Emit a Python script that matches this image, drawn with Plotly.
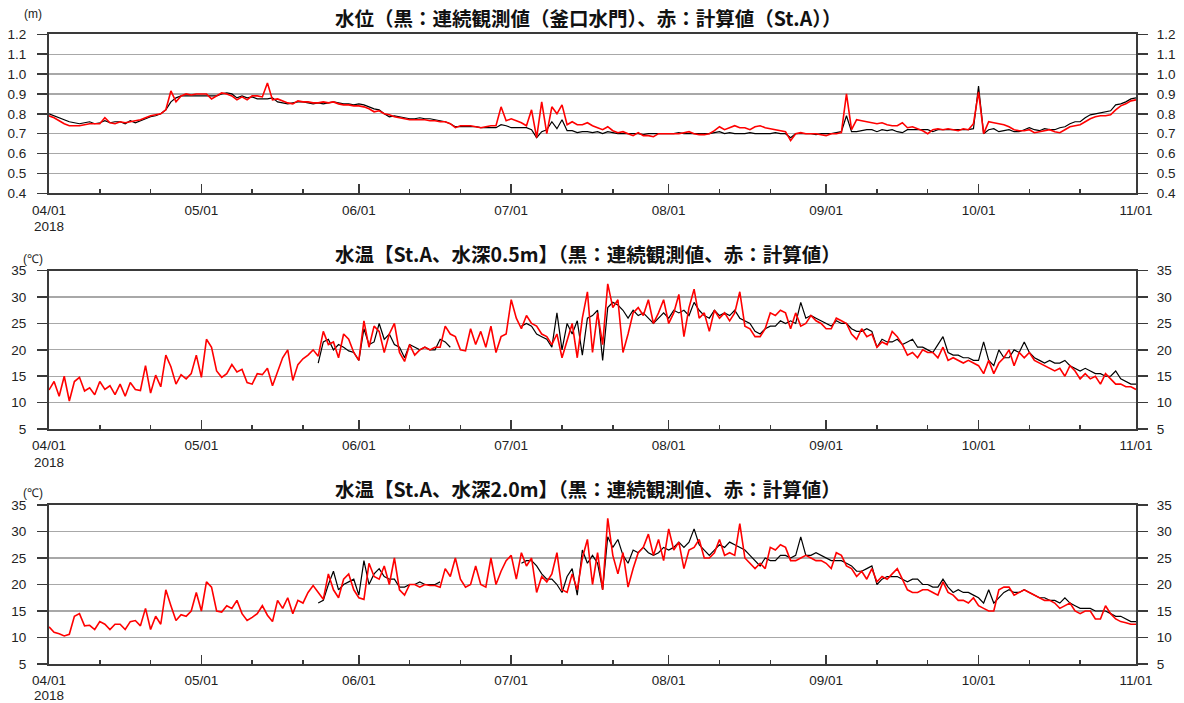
import pandas as pd
import plotly.graph_objects as go

W, H = 1184, 703

# ---------------- data ----------------
month_ticks = ["2018-04-01", "2018-05-01", "2018-06-01", "2018-07-01", "2018-08-01",
               "2018-09-01", "2018-10-01", "2018-11-01"]
month_labels = ["04/01", "05/01", "06/01", "07/01", "08/01", "09/01", "10/01", "11/01"]
year_label = "2018"
minor_ticks = [f"2018-{m:02d}-{d:02d}" for m in range(4, 11) for d in (11, 21)]

# water level (m), daily, 2018-04-01 .. 2018-11-01
lv_calc_apr = [0.79,0.78,0.765,0.75,0.74,0.74,0.74,0.745,0.75,0.75,0.75,0.78,0.755,0.75,0.76,
               0.755,0.76,0.765,0.77,0.78,0.79,0.795,0.80,0.82,0.915,0.86,0.89,0.90,0.895,0.90]
lv_calc_may = [0.90,0.90,0.875,0.89,0.905,0.90,0.89,0.87,0.885,0.87,0.89,0.89,0.885,0.955,0.87,
               0.875,0.865,0.855,0.85,0.865,0.86,0.86,0.855,0.855,0.86,0.855,0.86,0.85,0.845,0.845,0.84]
lv_calc_jun = [0.84,0.835,0.825,0.81,0.815,0.80,0.795,0.785,0.78,0.775,0.77,0.77,0.77,0.77,0.765,
               0.765,0.76,0.76,0.75,0.73,0.74,0.74,0.74,0.735,0.73,0.735,0.74,0.74,0.835,0.765]
lv_calc_jul = [0.775,0.765,0.755,0.74,0.82,0.68,0.86,0.70,0.835,0.80,0.845,0.745,0.76,0.745,0.745,
               0.755,0.74,0.73,0.72,0.735,0.715,0.705,0.71,0.70,0.69,0.705,0.69,0.69,0.685,0.70,0.70]
lv_calc_aug = [0.70,0.70,0.70,0.705,0.71,0.70,0.695,0.695,0.70,0.715,0.735,0.72,0.73,0.74,0.73,
               0.73,0.72,0.735,0.74,0.73,0.725,0.72,0.715,0.71,0.665,0.70,0.705,0.70,0.70,0.70,0.695]
lv_calc_sep = [0.69,0.70,0.70,0.705,0.90,0.72,0.77,0.765,0.76,0.755,0.75,0.755,0.745,0.74,0.74,
               0.755,0.73,0.735,0.725,0.715,0.70,0.72,0.725,0.72,0.725,0.72,0.715,0.725,0.72,0.75]
lv_calc_oct = [0.91,0.70,0.76,0.755,0.75,0.745,0.735,0.72,0.715,0.715,0.72,0.705,0.71,0.715,0.72,
               0.71,0.705,0.72,0.735,0.74,0.745,0.76,0.775,0.785,0.79,0.79,0.795,0.82,0.84,0.85,
               0.865,0.87]

lv_obs_apr = [0.80,0.79,0.78,0.77,0.76,0.755,0.75,0.755,0.76,0.75,0.755,0.765,0.755,0.76,0.76,
              0.75,0.765,0.755,0.765,0.775,0.785,0.79,0.80,0.82,0.86,0.88,0.89,0.89,0.89,0.89]
lv_obs_may = [0.89,0.89,0.89,0.89,0.90,0.905,0.90,0.88,0.89,0.88,0.885,0.875,0.875,0.875,0.88,
              0.86,0.855,0.85,0.855,0.86,0.86,0.855,0.85,0.855,0.85,0.855,0.86,0.855,0.85,0.85,0.845]
lv_obs_jun = [0.85,0.845,0.835,0.825,0.82,0.80,0.785,0.79,0.785,0.78,0.775,0.775,0.78,0.775,0.775,
              0.77,0.765,0.76,0.75,0.735,0.735,0.735,0.735,0.735,0.73,0.73,0.73,0.73,0.745,0.74]
lv_obs_jul = [0.73,0.73,0.73,0.73,0.72,0.68,0.71,0.72,0.76,0.725,0.77,0.715,0.715,0.705,0.71,
              0.71,0.705,0.71,0.70,0.71,0.705,0.70,0.70,0.70,0.70,0.70,0.695,0.70,0.70,0.70,0.70]
lv_obs_aug = [0.70,0.70,0.705,0.70,0.70,0.70,0.70,0.70,0.70,0.705,0.71,0.70,0.705,0.70,0.70,
              0.70,0.705,0.70,0.70,0.70,0.70,0.705,0.70,0.70,0.68,0.70,0.70,0.70,0.70,0.695,0.70]
lv_obs_sep = [0.70,0.70,0.705,0.71,0.79,0.71,0.71,0.715,0.72,0.72,0.71,0.72,0.715,0.72,0.71,
              0.705,0.72,0.72,0.72,0.72,0.72,0.71,0.72,0.72,0.72,0.72,0.72,0.72,0.72,0.725]
lv_obs_oct = [0.94,0.70,0.72,0.725,0.71,0.715,0.72,0.71,0.71,0.72,0.73,0.72,0.715,0.725,0.72,
              0.72,0.73,0.735,0.75,0.76,0.76,0.78,0.795,0.80,0.805,0.81,0.815,0.845,0.85,0.86,
              0.875,0.88]

level_calc = (lv_calc_apr + lv_calc_may + lv_calc_jun + lv_calc_jul + lv_calc_aug
              + lv_calc_sep + lv_calc_oct)
level_obs = (lv_obs_apr + lv_obs_may + lv_obs_jun + lv_obs_jul + lv_obs_aug
             + lv_obs_sep + lv_obs_oct)

# water temperature, 0.5 m depth (deg C), daily from 2018-04-01
t05_calc = [
    12.4, 14.0, 11.2, 15.0, 10.3, 14.0, 14.8, 12.2, 12.8, 11.5,
    14.0, 12.5, 13.2, 11.5, 13.5, 11.2, 13.8, 12.5, 12.3, 17.0,
    11.8, 15.2, 13.0, 19.0, 16.8, 13.5, 15.3, 14.5, 15.5, 19.0,
    14.8, 22.0, 20.5, 16.0, 14.8, 15.5, 17.2, 15.8, 16.3, 13.8,
    13.5, 15.5, 15.3, 16.5, 13.2, 16.0, 18.5, 20.0, 14.2, 17.2,
    18.3, 19.0, 20.0, 18.8, 23.5, 21.0, 21.5, 18.5, 23.0, 22.0,
    19.5, 18.0, 25.5, 20.5, 24.5, 23.5, 19.5, 23.0, 25.0, 19.5,
    17.8, 21.0, 19.0, 20.0, 20.5, 20.0, 20.5, 20.5, 24.5, 23.0,
    22.5, 20.0, 19.8, 24.0, 21.0, 23.5, 20.5, 24.5, 19.5, 22.5,
    23.0, 29.5, 26.0, 24.0, 26.5, 25.0, 24.5, 23.0, 22.5, 21.0,
    23.0, 18.5, 22.0, 25.0, 18.5, 26.0, 31.0, 19.5, 27.0, 21.0,
    32.5, 28.0, 29.5, 19.5, 23.0, 27.0, 28.0, 26.5, 29.5, 25.0,
    27.0, 29.5, 25.0, 27.0, 30.5, 22.5, 28.0, 31.5, 26.0, 27.0,
    23.5, 27.5, 26.0, 27.0, 25.5, 27.0, 31.0, 24.5, 24.0, 22.5,
    22.5, 24.0, 27.0, 26.5, 27.5, 27.0, 24.0, 27.0, 24.5, 25.0,
    26.5, 25.5, 25.0, 24.0, 24.0, 26.0, 25.5, 25.0, 23.0, 22.0,
    24.0, 22.5, 23.0, 20.5, 21.5, 21.0, 23.5, 22.5, 21.0, 19.0,
    19.5, 18.5, 20.0, 19.5, 19.5, 18.5, 20.5, 18.0, 18.5, 18.0,
    17.5, 18.0, 17.5, 17.0, 15.5, 18.0, 15.5, 17.5, 18.5, 20.0,
    17.0, 19.5, 18.5, 19.5, 18.0, 17.5, 17.0, 16.5, 16.0, 16.5,
    15.0, 17.0, 16.0, 14.5, 15.5, 14.5, 15.0, 13.5, 15.5, 14.5,
    13.5, 13.5, 13.0, 13.0, 12.5]

# observed 0.5 m, daily from 2018-05-24 (None = no data)
t05_obs = [
    17.5, 21.5, 22.0, 20.0, 21.0, 20.5, 19.8,
    19.5, 18.0, 24.0, 21.0, 21.5, 25.0, 22.0, 23.0, 21.0, 20.5,
    18.5, 21.0, 20.5, 20.0, 20.5, 20.0, 20.0, 22.0, 21.5, 20.5,
    None, None, None, None, None, None, None, None, None, None, None, None, None,
    24.5, 25.0, 24.5, 23.0, 22.5, 22.0, 20.5,
    27.0, 20.0, 25.0, 23.0, 25.5, 19.0, 26.0, 26.5, 27.5, 18.0,
    28.0, 29.0, 28.5, 27.5, 26.0, 27.5, 26.5, 27.0, 26.0, 25.0,
    26.0, 27.0, 26.0, 27.5, 27.0, 27.5, 26.5, 29.0, 27.5, 26.5,
    26.0, 27.5, 26.5, 27.0, 26.5, 27.5, 26.0, 25.5, 25.0, 23.5,
    23.0, 24.0, 24.5, 24.5, 25.5, 25.0, 25.5, 25.0, 29.0, 26.0,
    26.5, 26.0, 25.5, 25.0, 24.5, 25.5, 25.0, 25.0, 24.0, 23.5,
    23.5, 24.0, 23.5, 20.5, 22.0, 21.5, 21.5, 22.0, 21.0, 21.5,
    22.0, 20.5, 20.5, 20.0, 19.5, 21.0, 22.5, 19.5, 19.0, 19.0,
    18.5, 18.5, 18.0, 18.0, 21.5, 18.0, 17.0, 20.0, 18.5, 18.5,
    20.0, 19.5, 21.5, 19.5, 18.5, 18.0, 17.5, 18.0, 17.5, 17.5,
    18.0, 17.0, 16.5, 16.0, 16.5, 16.0, 15.5, 15.5, 15.0, 15.0,
    16.0, 14.5, 14.0, 13.5, 13.5]

# water temperature, 2.0 m depth (deg C), daily from 2018-04-01
t20_calc = [
    12.0, 11.0, 10.7, 10.3, 10.6, 14.0, 14.5, 12.2, 12.3, 11.5,
    13.0, 12.5, 11.5, 12.5, 12.5, 11.5, 13.0, 13.2, 12.2, 15.5,
    11.5, 14.0, 12.5, 19.0, 16.0, 13.2, 14.3, 14.0, 15.0, 18.5,
    15.0, 20.5, 19.5, 15.0, 14.8, 16.0, 15.5, 17.0, 14.5, 13.2,
    13.8, 14.5, 16.0, 14.2, 13.0, 17.0, 15.5, 17.5, 14.5, 17.0,
    16.5, 18.5, 19.8, 18.5, 17.2, 22.0, 19.0, 17.5, 21.0, 22.0,
    19.0, 17.5, 17.2, 24.0, 21.5, 21.0, 23.5, 20.0, 25.0, 19.0,
    18.0, 20.0, 20.0, 19.5, 20.0, 19.8, 19.8, 19.5, 23.0, 21.5,
    25.0, 21.0, 19.5, 20.0, 23.5, 20.0, 19.5, 25.0, 20.0, 22.5,
    24.5, 25.5, 21.0, 26.0, 23.5, 25.0, 18.5, 21.5, 20.5, 22.0,
    26.0, 19.0, 18.5, 22.0, 19.0, 25.0, 28.5, 20.0, 26.0, 19.0,
    32.5, 25.5, 22.0, 26.0, 19.5, 23.0, 26.0, 27.0, 29.5, 25.5,
    28.5, 24.5, 30.5, 26.5, 28.0, 23.0, 26.5, 27.0, 28.5, 25.0,
    25.0, 26.0, 28.5, 25.5, 26.0, 25.5, 31.5, 25.0, 24.0, 23.0,
    24.0, 23.0, 27.0, 26.5, 27.5, 27.0, 24.5, 24.5, 25.0, 25.5,
    25.0, 24.5, 24.5, 24.0, 23.0, 26.0, 25.5, 23.5, 23.0, 21.5,
    22.5, 21.0, 23.0, 20.5, 21.5, 21.0, 22.0, 23.0, 21.0, 19.0,
    18.5, 18.5, 19.0, 19.0, 18.5, 18.0, 20.5, 18.5, 18.0, 17.0,
    17.0, 16.5, 17.5, 16.0, 15.5, 15.0, 15.0, 19.0, 19.5, 19.5,
    18.0, 18.5, 19.0, 18.5, 18.0, 17.5, 17.0, 17.0, 16.5, 15.5,
    16.0, 16.5, 15.0, 14.5, 15.0, 15.0, 13.5, 13.5, 16.0, 14.5,
    13.5, 13.0, 12.8, 12.5, 12.5]

# observed 2.0 m, daily from 2018-05-24 (None = no data)
t20_obs = [
    16.5, 17.0, 20.0, 22.5, 19.0, 20.0, 20.5,
    21.0, 18.0, 24.5, 20.0, 22.0, 23.0, 21.5, 21.0, 21.0, 19.5,
    19.5, 20.0, 20.0, 20.5, 20.0, 20.0, 20.0, 20.5,
    None, None, None, None, None, None, None, None, None, None, None, None, None, None, None,
    24.0, 24.5, 24.5, 23.5, 22.0, 21.0, 21.0,
    20.0, 18.5, 21.5, 23.0, 18.0, 26.5, 24.0, 25.5, 24.0, 19.0,
    29.0, 27.0, 28.5, 25.5, 24.0, 26.5, 26.0, 27.0, 26.0, 25.5,
    26.0, 27.0, 26.5, 27.0, 28.0, 27.0, 28.0, 30.5, 27.5, 26.5,
    25.5, 26.5, 27.5, 27.0, 28.0, 27.5, 27.0, 26.5, 25.5, 24.5,
    23.5, 25.0, 24.5, 24.5, 25.5, 25.5, 25.0, 25.5, 29.0, 25.5,
    25.5, 26.0, 25.5, 25.0, 24.5, 24.5, 24.5, 24.0, 23.5, 22.5,
    22.5, 23.0, 23.5, 20.0, 21.0, 21.5, 21.5, 21.5, 21.0, 20.5,
    21.0, 21.0, 20.0, 20.0, 19.5, 19.5, 21.0, 19.5, 18.5, 19.0,
    18.5, 18.5, 18.0, 17.5, 16.5, 19.0, 16.5, 17.5, 18.5, 19.0,
    18.5, 18.5, 19.0, 18.5, 18.0, 17.5, 17.5, 17.0, 17.0, 16.5,
    17.5, 16.5, 16.0, 15.5, 15.5, 15.5, 15.0, 15.0, 15.0, 14.5,
    14.0, 14.0, 13.5, 13.0, 13.0]

titles = ["水位（黒：連続観測値（釜口水門）、赤：計算値（St.A））",
          "水温【St.A、水深0.5m】（黒：連続観測値、赤：計算値）",
          "水温【St.A、水深2.0m】（黒：連続観測値、赤：計算値）"]
units = ["(m)", "(℃)", "(℃)"]

dates_all = pd.date_range("2018-04-01", periods=len(level_calc), freq="D")
dates_obs = pd.date_range("2018-05-24", periods=len(t05_obs), freq="D")
dates_obs2 = pd.date_range("2018-05-24", periods=len(t20_obs), freq="D")

# ---------------- layout helpers ----------------
def px(x):
    return x / W

def py(y):
    return 1 - y / H

X0, X1 = 49, 1136
panels = [(34.3, 193.3), (270.7, 429.0), (505.0, 664.0)]
yranges = [(0.4, 1.2, 0.1, ".1f"), (5, 35, 5, "d"), (5, 35, 5, "d")]

FONT = "Liberation Sans, Arial, sans-serif"
TICKFONT = dict(family=FONT, size=13.5, color="#222")
AXCOL = "#3a3a3a"
GRIDCOL = "#a8a8a8"

fig = go.Figure()

series = [
    (dates_all, level_obs, dates_all, level_calc),
    (dates_obs, t05_obs, dates_all, t05_calc),
    (dates_obs2, t20_obs, dates_all, t20_calc),
]

layout = dict(width=W, height=H, margin=dict(l=0, r=0, t=0, b=0, pad=0), autosize=False,
              plot_bgcolor="white", paper_bgcolor="white", showlegend=False,
              annotations=[])

for i, ((xo, yo, xc, yc), (top, bot), (lo, hi, dt, fmt)) in enumerate(zip(series, panels, yranges)):
    xa = "x" if i == 0 else f"x{i+1}"
    yl = f"y{2*i+1}" if i > 0 else "y"
    yr = f"y{2*i+2}"
    fig.add_trace(go.Scatter(x=xo, y=yo, mode="lines", xaxis=xa, yaxis=yl,
                             line=dict(color="black", width=1.2), connectgaps=False,
                             hoverinfo="skip"))
    fig.add_trace(go.Scatter(x=xc, y=yc, mode="lines", xaxis=xa, yaxis=yr,
                             line=dict(color="#ff0000", width=1.6), hoverinfo="skip"))

    xkey = "xaxis" if i == 0 else f"xaxis{i+1}"
    ylkey = "yaxis" if i == 0 else f"yaxis{2*i+1}"
    yrkey = f"yaxis{2*i+2}"
    dom_y = [py(bot), py(top)]
    layout[xkey] = dict(
        domain=[px(X0), px(X1)], anchor=yl, type="date", automargin=False,
        range=["2018-04-01", "2018-11-01"],
        tickmode="array", tickvals=month_ticks, ticktext=month_labels,
        ticks="inside", ticklen=9, tickwidth=1.5, tickcolor=AXCOL,
        showline=True, linecolor=AXCOL, linewidth=2, mirror=True,
        showgrid=False, zeroline=False, tickfont=TICKFONT, ticklabelstandoff=3,
        minor=dict(tickmode="array", tickvals=minor_ticks, ticks="inside",
                   ticklen=4, tickwidth=1.5, tickcolor=AXCOL, showgrid=False),
        fixedrange=True,
    )
    tickv = []
    v = lo
    while v <= hi + 1e-9:
        tickv.append(round(v, 3))
        v += dt
    common_y = dict(range=[lo, hi], tickmode="array", tickvals=tickv, automargin=False,
                    tickformat=fmt, ticks="outside", ticklen=10, tickwidth=1.5,
                    tickcolor=AXCOL, showline=True, linecolor=AXCOL, linewidth=2,
                    zeroline=False, tickfont=TICKFONT, fixedrange=True)
    layout[ylkey] = dict(domain=dom_y, anchor=xa, side="left", showgrid=True,
                         gridcolor=GRIDCOL, gridwidth=1.2, ticklabelstandoff=8,
                         **common_y)
    layout[yrkey] = dict(anchor=xa, overlaying=yl, side="right", showgrid=False,
                         ticklabelstandoff=6, **common_y)

    layout["annotations"].append(dict(
        text=titles[i], xref="paper", yref="paper", x=px(588), y=py(top - 17),
        xanchor="center", yanchor="middle", showarrow=False,
        font=dict(family="Noto Sans CJK JP", size=19.5, color="#111", weight="bold")))
    layout["annotations"].append(dict(
        text=units[i], xref="paper", yref="paper", x=px(33),
        y=py(top - 20 if i == 0 else top - 12),
        xanchor="center", yanchor="middle", showarrow=False,
        font=dict(family=FONT, size=12, color="#222")))
    layout["annotations"].append(dict(
        text=year_label, xref="paper", yref="paper", x=px(X0),
        y=py(bot + 33 if i < 2 else bot + 31.5),
        xanchor="center", yanchor="middle", showarrow=False,
        font=TICKFONT))

fig.update_layout(**layout)
fig.write_html(
    "out.html",
    config={"displayModeBar": False, "staticPlot": True},
    post_script="document.body.style.margin='0';document.body.style.padding='0';"
                "document.body.style.overflow='hidden';",
)
